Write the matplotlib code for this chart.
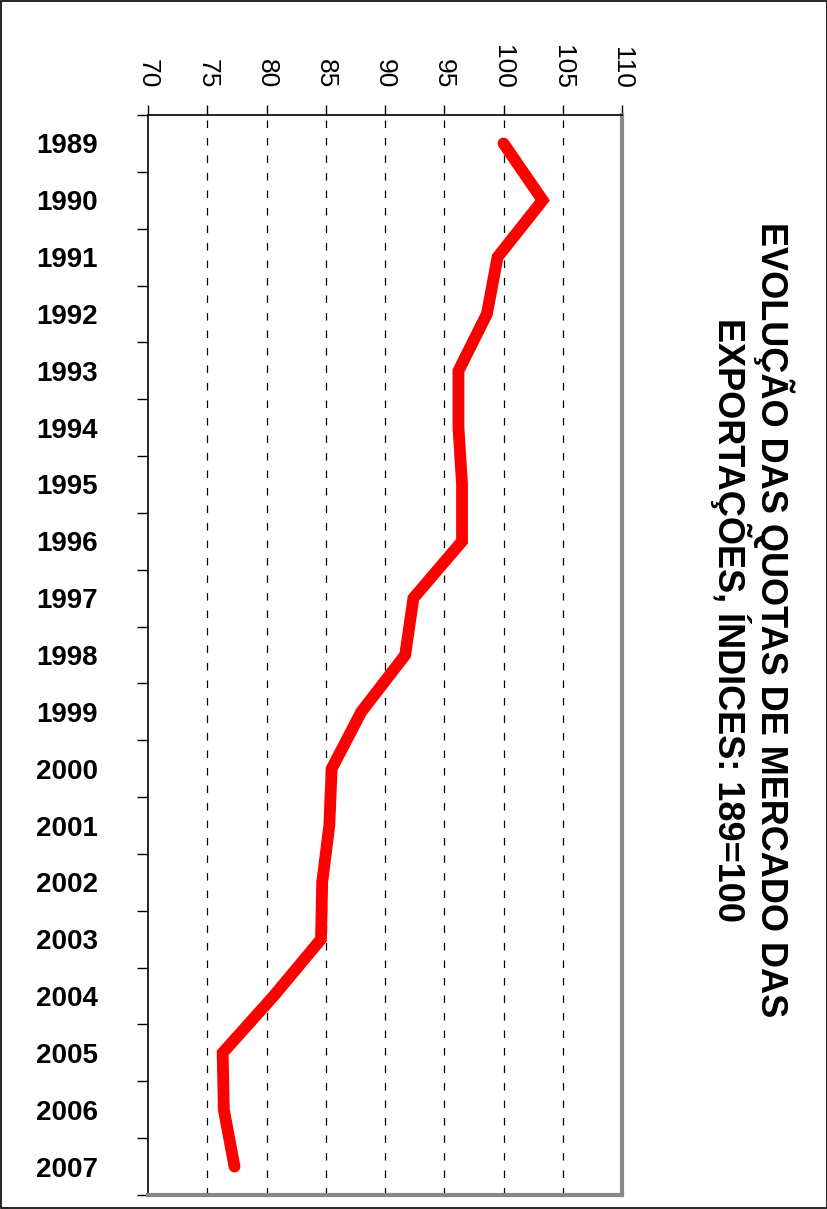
import numpy as np
import matplotlib
matplotlib.use("Agg")
import matplotlib.pyplot as plt
from matplotlib.patches import Rectangle

plt.rcParams['font.family'] = ['Liberation Sans', 'DejaVu Sans']

years = [str(y) for y in range(1989, 2008)]
quota = [100.0, 103.3, 99.5, 98.6, 96.2, 96.2, 96.5, 96.5, 92.4, 91.7,
         88.0, 85.5, 85.3, 84.7, 84.6, 80.6, 76.3, 76.4, 77.3]
xticks = [70, 75, 80, 85, 90, 95, 100, 105, 110]

fig = plt.figure(figsize=(8.28, 12.09), dpi=100)
ax = fig.add_axes([148/828, 1-1195/1209, (622-148)/828, (1195-115)/1209])

pos = np.arange(len(years))
ax.plot(quota, pos, color='red', lw=8.5, solid_capstyle='round',
        solid_joinstyle='miter', zorder=3)

ax.set_xlim(70, 110)
ax.set_ylim(len(years) - 0.5, -0.5)

# gridlines
for v in xticks[1:-1]:
    ax.axvline(v, color='black', lw=0.9, ls=(0, (6, 8)), zorder=1)

ax.xaxis.tick_top()
ax.set_xticks(xticks)
ax.set_xticklabels([str(v) for v in xticks], rotation=-90, fontsize=19)
ax.tick_params(axis='x', direction='out', length=7, width=1, pad=12)

ax.set_yticks(pos)
ax.set_yticklabels(years, fontsize=20, fontweight='bold')
ax.set_yticks(np.arange(-0.5, len(years), 1), minor=True)
ax.tick_params(axis='y', which='major', length=0, pad=36)
ax.tick_params(axis='y', which='minor', direction='out', length=8, width=1)

ax.spines['left'].set_linewidth(1.2)
ax.spines['top'].set_linewidth(1.2)
ax.spines['right'].set_color('#888888')
ax.spines['right'].set_linewidth(3)
ax.spines['bottom'].set_color('#888888')
ax.spines['bottom'].set_linewidth(3)

fig.text(752/828, 1-620/1209,
         "EVOLUÇÃO DAS QUOTAS DE MERCADO DAS\nEXPORTAÇÕES, ÍNDICES: 189=100",
         rotation=-90, ha='center', va='center', multialignment='center',
         fontsize=26, fontweight='bold', linespacing=1.05)

fig.patches.append(Rectangle((0.001, 0.001), 0.998, 0.998, transform=fig.transFigure,
                             fill=False, edgecolor='black', lw=1.2))

fig.savefig("out.png", dpi=100)
